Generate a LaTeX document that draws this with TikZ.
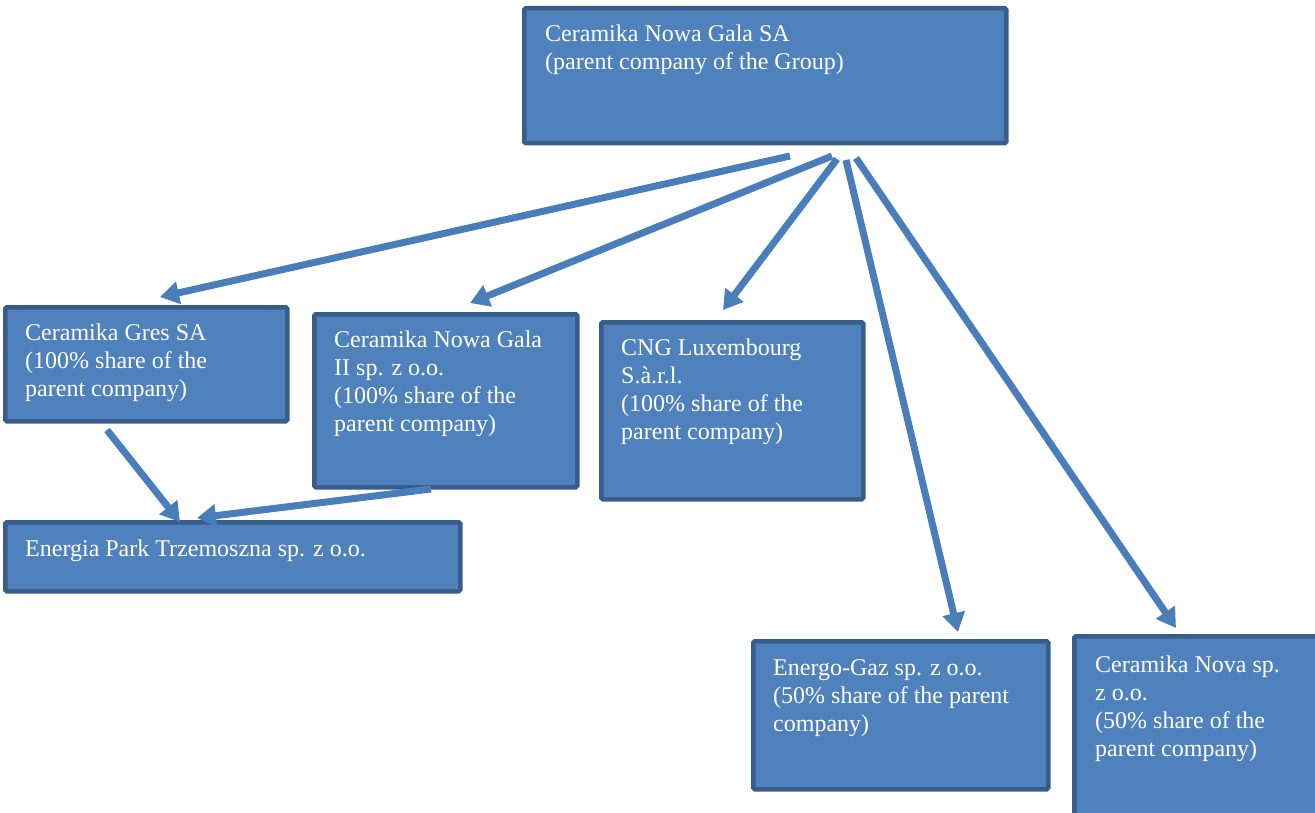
\documentclass[tikz,border=0pt]{standalone}
\usepackage{fontspec}
\setmainfont{Liberation Serif}
\usetikzlibrary{arrows.meta}
\definecolor{boxfill}{HTML}{4F81BD}
\definecolor{boxline}{HTML}{385D8A}
\definecolor{arrowc}{HTML}{4A7EBB}
\begin{document}
\begin{tikzpicture}[x=1pt,y=-1pt,
  box/.style={draw=boxline,fill=boxfill,line width=4.5pt,rounded corners=1.5pt,anchor=north west,inner sep=0pt},
  txt/.style={anchor=north west,inner sep=0pt,align=left,text=white,font=\fontsize{24}{28}\selectfont},
  conn/.style={draw=arrowc,line width=7pt,-{Triangle[length=19pt,width=22pt]}}]
\useasboundingbox (0,0) rectangle (1315,813);
\clip (0,0) rectangle (1315,813);
% boxes
\node[box,minimum width=482pt,minimum height=135pt] (parent) at (522,6) {};
\node[txt] (parentt) at (545,21.4) {\strut Ceramika Nowa Gala SA\\(parent company of the Group)};

\node[box,minimum width=282pt,minimum height=114pt] (gres) at (3,305) {};
\node[txt] (grest) at (25,320.4) {\strut Ceramika Gres SA\\(100\% share of the\\parent company)};

\node[box,minimum width=263pt,minimum height=173pt] (cngii) at (312,312) {};
\node[txt] (cngiit) at (334,327.4) {\strut Ceramika Nowa Gala\\II sp. z o.o.\\(100\% share of the\\parent company)};

\node[box,minimum width=262pt,minimum height=177pt] (lux) at (599,320) {};
\node[txt] (luxt) at (621,335.4) {\strut CNG Luxembourg\\S.à.r.l.\\(100\% share of the\\parent company)};

\node[box,minimum width=455pt,minimum height=69pt] (energia) at (3,520) {};
\node[txt] (energiat) at (25,536.4) {\strut Energia Park Trzemoszna sp. z o.o.};

\node[box,minimum width=295pt,minimum height=148pt] (gaz) at (751,639) {};
\node[txt] (gazt) at (773,655.4) {\strut Energo-Gaz sp. z o.o.\\(50\% share of the parent\\company)};

\node[box,minimum width=250pt,minimum height=190pt] (nova) at (1072,634) {};
\node[txt] (novat) at (1095,652.4) {\strut Ceramika Nova sp.\\z o.o.\\(50\% share of the\\parent company)};

% connector ends
\coordinate (s1) at (790,156);
\coordinate (e1) at (160,297);
\coordinate (s2) at (832,156);
\coordinate (e2) at (470,303);
\coordinate (s3) at (837,159);
\coordinate (e3) at (723,310);
\coordinate (s4) at (846,160);
\coordinate (e4) at (958,632);
\coordinate (s5) at (856,158);
\coordinate (e5) at (1176,628);
\coordinate (s6) at (107,430);
\coordinate (e6) at (180,522);
\coordinate (s7) at (431,489);
\coordinate (e7) at (197,518);

\draw[conn] (s1) -- (e1);
\draw[conn] (s2) -- (e2);
\draw[conn] (s3) -- (e3);
\draw[conn] (s4) -- (e4);
\draw[conn] (s5) -- (e5);
\draw[conn] (s6) -- (e6);
\draw[conn] (s7) -- (e7);
\end{tikzpicture}
\end{document}
